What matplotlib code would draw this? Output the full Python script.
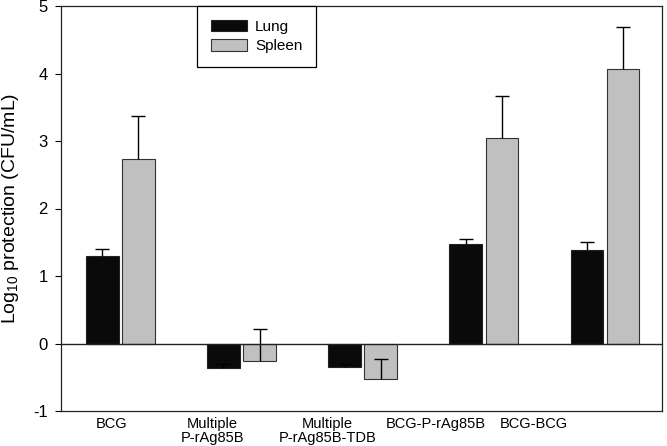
import numpy as np
import matplotlib
matplotlib.use("Agg")
import matplotlib.pyplot as plt

plt.rcParams['font.family'] = ['Liberation Sans', 'DejaVu Sans']
plt.rcParams['mathtext.default'] = 'regular'
plt.rcParams['axes.unicode_minus'] = False

groups = ["BCG", "Multiple\nP-rAg85B", "Multiple\nP-rAg85B-TDB", "BCG-P-rAg85B", "BCG-BCG"]
# SigmaPlot-style hand-placed label positions (in group units)
label_pos = [-0.07, 0.76, 1.71, 2.60, 3.41]
lung = [1.30, -0.36, -0.35, 1.47, 1.39]
lung_err = [0.10, 0.05, 0.05, 0.08, 0.11]
spleen = [2.73, -0.26, -0.53, 3.04, 4.07]
spleen_err = [0.64, 0.47, 0.30, 0.63, 0.62]

fig = plt.figure(figsize=(6.67, 4.46), dpi=100)
ax = fig.add_axes([61/667, 1 - 411/446, 601/667, 405/446])

x = np.arange(len(groups))
w = 0.27
off = 0.149
ebkw = dict(ecolor='black', elinewidth=1.0, capsize=5, capthick=1.0)
b1 = ax.bar(x - off, lung, w, color='#0a0a0a', edgecolor='#222222', linewidth=0.8,
            yerr=[np.zeros(5), lung_err], error_kw=ebkw, label='Lung', zorder=2)
b2 = ax.bar(x + off, spleen, w, color='#c0c0c0', edgecolor='#333333', linewidth=0.8,
            yerr=[np.zeros(5), spleen_err], error_kw=ebkw, label='Spleen', zorder=2)
# upper-only error bars: hide the caps drawn at the bar ends
for b in (b1, b2):
    caps = b.errorbar.lines[1]
    caps[0].set_visible(False)

ax.axhline(0, color='#222222', linewidth=1.0, zorder=3)
ax.set_xlim(-0.49, 4.47)
ax.set_ylim(-1, 5)
ax.set_yticks(range(-1, 6))
ax.set_xticks(label_pos)
ax.set_xticklabels(groups, fontsize=10.5, linespacing=1.0)
ax.tick_params(axis='x', length=0, pad=4)
ax.tick_params(axis='y', direction='out', length=4.5, width=0.8, pad=5, labelsize=12)
for s in ax.spines.values():
    s.set_linewidth(0.9)
    s.set_color('#222222')

ax.set_ylabel(r"Log$_{10}$ protection (CFU/mL)", fontsize=14)
ax.yaxis.set_label_coords(-0.066, 0.5)

leg = ax.legend(loc='upper left', bbox_to_anchor=(0.226, 1.0), borderaxespad=0,
                fancybox=False, edgecolor='black', framealpha=1, fontsize=11,
                handlelength=2.4, handleheight=0.8, handletextpad=0.5,
                borderpad=0.9, labelspacing=0.35)
leg.get_frame().set_linewidth(0.9)

fig.savefig("out.png", dpi=100)
